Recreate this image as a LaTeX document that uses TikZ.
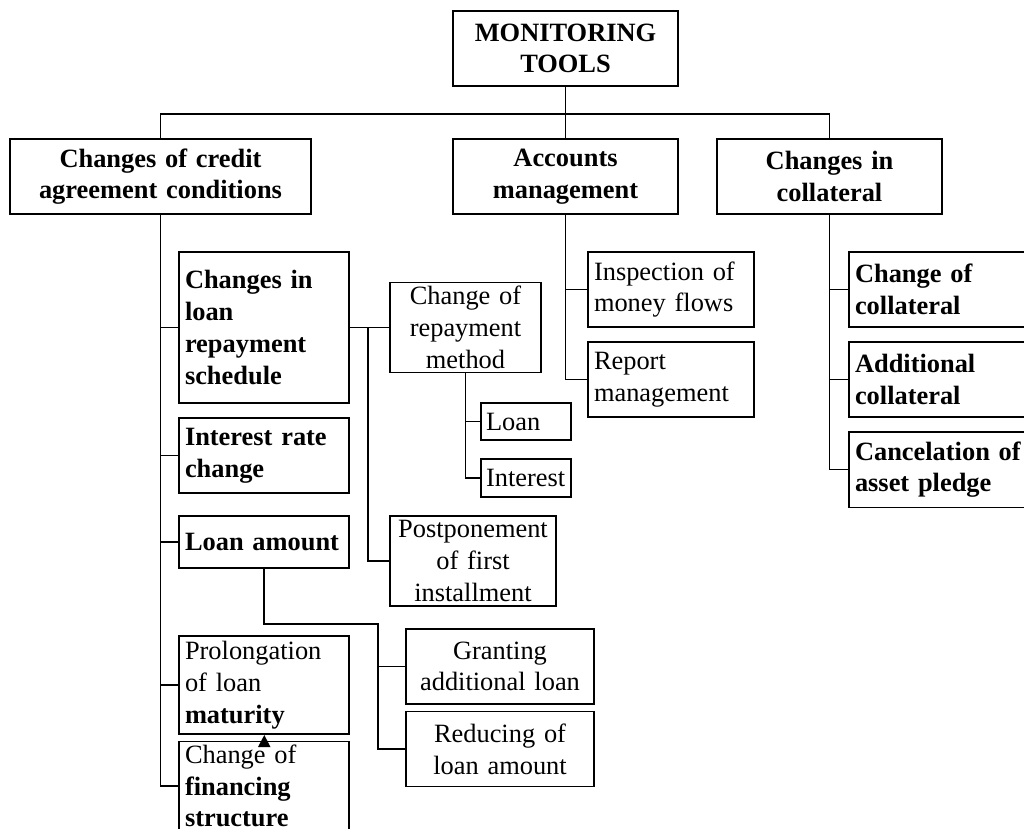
\documentclass[tikz,border=0pt]{standalone}
\usepackage{fontspec}
\setmainfont{Liberation Serif}
\hyphenpenalty=10000
\exhyphenpenalty=10000
\begin{document}
\begin{tikzpicture}[x=1pt,y=-1pt,
  base/.style={draw, line width=1.3pt, inner ysep=0pt, font=\fontsize{26.4}{31.7}\selectfont},
  lbox/.style={base, align=left, inner xsep=6pt},
  cbox/.style={base, align=center, inner xsep=6pt},
  conn/.style={line width=1.2pt}]
\useasboundingbox (0,0) rectangle (1024,828);
% top
\node[cbox, text width=213pt, minimum height=75pt] (MT) at (565.5,48.5) {\textbf{MONITORING}\\\textbf{TOOLS}};
\node[cbox, text width=289pt, minimum height=75pt] (CCAC) at (160.5,176.5) {\textbf{Changes of credit}\\\textbf{agreement conditions}};
\node[cbox, text width=213pt, minimum height=75pt] (AM) at (565.5,176.5) {\textbf{Accounts}\\\textbf{management}};
\node[cbox, text width=213pt, minimum height=75pt] (CIC) at (829.5,176.5) {\textbf{Changes in}\\\textbf{collateral}};
% left column
\node[lbox, text width=158pt, minimum height=151pt] (CLRS) at (264,327.5) {\textbf{Changes in}\\\textbf{loan}\\\textbf{repayment}\\\textbf{schedule}};
\node[lbox, text width=158pt, minimum height=75pt] (IRC) at (264,455.5) {\textbf{Interest rate}\\\textbf{change}};
\node[lbox, text width=158pt, minimum height=52pt] (LA) at (264,542) {\textbf{Loan amount}};
\node[lbox, text width=158pt, minimum height=98pt] (PROL) at (264,685) {Prolongation\\of loan\\\textbf{maturity}};
\node[lbox, text width=158pt, minimum height=89pt] (CFS) at (264,786) {Change of\\\textbf{financing}\\\textbf{structure}};
% repayment schedule children
\node[cbox, text width=139pt, minimum height=90pt] (CRM) at (465.5,327.5) {Change of\\repayment\\method};
\node[lbox, inner xsep=5pt, text width=80pt, minimum height=37pt] (LOAN) at (526,421.5) {Loan};
\node[lbox, inner xsep=5pt, text width=80pt, minimum height=38pt] (INT) at (526,478) {Interest};
\node[cbox, text width=154pt, minimum height=90pt] (POST) at (473,561) {Postponement\\of first\\installment};
% loan amount children
\node[cbox, text width=176pt, minimum height=75pt] (GRANT) at (500,666.5) {Granting\\additional loan};
\node[cbox, text width=176pt, minimum height=75pt] (REDU) at (500,749) {Reducing of\\loan amount};
% accounts children
\node[lbox, text width=154pt, minimum height=75pt] (INSP) at (671,289.5) {Inspection of\\money flows};
\node[lbox, text width=154pt, minimum height=75pt] (REP) at (671,379.5) {Report\\management};
% collateral children
\node[lbox, text width=179pt, minimum height=75pt] (CCOL) at (944.5,289.5) {\textbf{Change of}\\\textbf{collateral}};
\node[lbox, text width=179pt, minimum height=75pt] (ADD) at (944.5,379.5) {\textbf{Additional}\\\textbf{collateral}};
\node[lbox, text width=179pt, minimum height=75.5pt] (CANC) at (944.5,469.75) {\textbf{Cancelation of}\\\textbf{asset pledge}};
% connectors
\coordinate (bar) at (0,114);
\draw[conn] (MT) -- (AM);
\draw[conn] (CCAC.north) -- (CCAC.north |- bar) -- (CIC.north |- bar) -- (CIC.north);
\foreach \n in {CLRS,IRC,LA,PROL,CFS} \draw[conn] (CCAC.south) |- (\n.west);
\draw[conn] (CLRS.east) -- (CRM.west);
\coordinate (j1) at (368,327.5);
\draw[conn] (j1) |- (POST.west);
\draw[conn] (CRM.south) |- (LOAN.west);
\draw[conn] (CRM.south) |- (INT.west);
\coordinate (k1) at (264,624);
\coordinate (k2) at (378,624);
\draw[conn] (LA.south) -- (k1) -- (k2) |- (GRANT.west);
\draw[conn] (k2) |- (REDU.west);
\draw[conn] (AM.south) |- (INSP.west);
\draw[conn] (AM.south) |- (REP.west);
\foreach \n in {CCOL,ADD,CANC} \draw[conn] (CIC.south) |- (\n.west);
% stray arrowhead
\fill (258,747) -- (270.5,747) -- (264.3,735) -- cycle;
\end{tikzpicture}
\end{document}
